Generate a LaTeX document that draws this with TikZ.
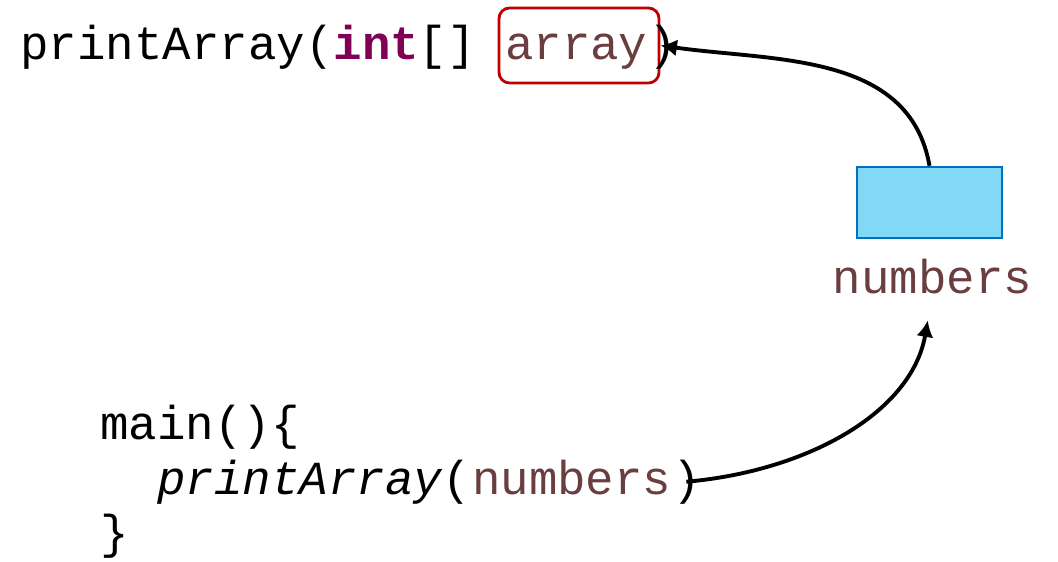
\documentclass[tikz,border=0pt]{standalone}
\usepackage{fontspec}
\setmonofont{Liberation Mono}
\usetikzlibrary{arrows.meta}
\definecolor{kwd}{RGB}{127,0,85}
\definecolor{vrb}{RGB}{106,62,62}
\definecolor{bxr}{RGB}{192,0,0}
\definecolor{obf}{RGB}{130,217,245}
\definecolor{obd}{RGB}{0,112,192}
\tikzset{
    CD/.style ={anchor=base west, inner sep=0pt, font=\ttfamily\fontsize{27}{32}\selectfont},
    VR/.style ={CD, text=vrb},
    BX/.style ={rectangle, rounded corners=6pt, draw=bxr, line width=1.6pt, minimum width=3.2cm, minimum height=1.5cm},
    OB/.style ={rectangle, draw=obd, fill=obf, line width=1.4pt, minimum width=2.9cm, minimum height=1.42cm},
    AR/.style ={line width=2.2pt, -{Latex[length=3.3mm,width=3.4mm]}}}

\begin{document}
\begin{tikzpicture}
        \useasboundingbox (0,0) rectangle (21.16,11.22);
        \node[BX] (box) at(11.58,10.31){};
        \node[CD] (sig) at(0.4,10.02){printArray(\textbf{\color{kwd}int}[]\ \null};
        \node[VR] (arg) at(sig.base east){array};
        \node[CD] (sigend) at(arg.base east){)};
        \node[OB] (obj) at(18.59,7.17){};
        \node[VR,anchor=base] (objname) at(18.65,5.36){numbers};
        \node[CD] (main) at(2.0,2.44){main()\{};
        \node[CD] (call) at(3.14,1.34){\textit{printArray}(};
        \node[VR] (callarg) at(call.base east){numbers};
        \node[CD] (callend) at(callarg.base east){)};
        \node[CD] (mainend) at(2.0,0.26){\}};
        \draw[AR] (obj.north) to[out=100,in=-8] (box.east);
        \draw[AR,shorten >=5.4mm] (callend.center) to[out=5,in=-100] (objname.south);
    \end{tikzpicture}
\end{document}
